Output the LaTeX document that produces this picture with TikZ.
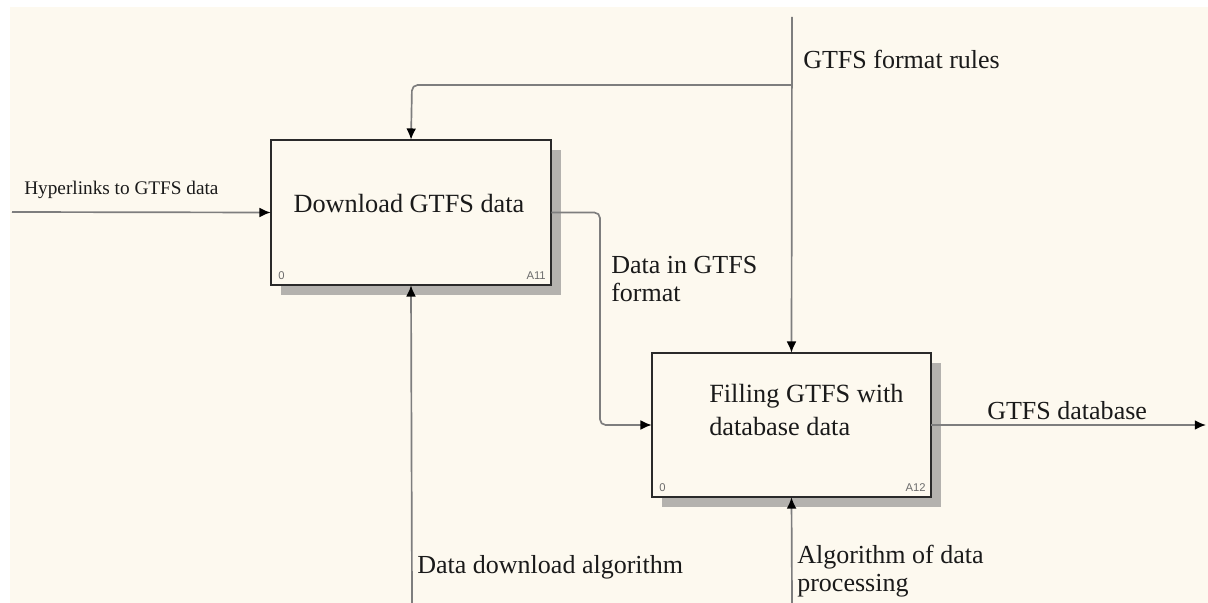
\documentclass[tikz,border=0pt]{standalone}
\usepackage{fontspec}
\setmainfont{Liberation Serif}
\newfontfamily\smallsans{Liberation Sans}
\usetikzlibrary{arrows.meta}
\definecolor{bgcream}{HTML}{FDF9EF}
\definecolor{linegray}{HTML}{7E7E7E}
\definecolor{boxline}{HTML}{2A2A2A}
\definecolor{shadowgray}{HTML}{B4B2AE}
\definecolor{textdark}{HTML}{1A1A1A}
\begin{document}
\begin{tikzpicture}[x=0.025cm,y=-0.025cm,
  actbox/.style={draw=boxline,line width=1.7pt,fill=bgcream,inner sep=0pt},
  conn/.style={draw=linegray,line width=1.2pt,rounded corners=4pt,-{Latex[length=8pt,width=7pt,color=black]}},
  lbl/.style={font=\fontsize{18.5}{20}\selectfont,text=textdark,inner sep=0pt,align=left},
  boxtxt/.style={font=\fontsize{18.7}{23}\selectfont,text=textdark,inner sep=0pt,align=left},
  small/.style={font=\smallsans\fontsize{8}{9}\selectfont,text=gray!85!black,inner sep=0pt}]
\useasboundingbox (0,0) rectangle (1208,603);
\fill[white] (0,0) rectangle (1208,603);
\fill[bgcream] (10,7) rectangle (1208,603);
% shadows
\fill[shadowgray] (281,150) rectangle (561,295);
\fill[shadowgray] (662,363) rectangle (941,507);
% boxes
\draw[actbox] (271,140) rectangle (551,285);
\draw[actbox] (652,353) rectangle (931,497);
\node[minimum width=280*0.025cm,minimum height=145*0.025cm,inner sep=0pt] (b1) at (411,212.5) {};
\node[minimum width=279*0.025cm,minimum height=144*0.025cm,inner sep=0pt] (b2) at (791.5,425) {};
% box texts
\node[boxtxt] (t1) at (409,204) {Download GTFS data};
\node[boxtxt,anchor=west] (t2) at (709,410) {Filling GTFS with\\database data};
\node[small,anchor=west] (z1) at (278,276) {0};
\node[small,anchor=east] (n1) at (546,276) {A11};
\node[small,anchor=west] (z2) at (659,488) {0};
\node[small,anchor=east] (n2) at (926,488) {A12};
% connector end points
\coordinate (ctop) at (792,17);
\coordinate (cbr) at (792,85);
\coordinate (inL) at (12,212);
\coordinate (outR) at (1206,425);
\coordinate (m1) at (412,603);
\coordinate (m2) at (792,603);
% connectors
\draw[conn] (ctop) -- (b2.north);
\draw[conn] (cbr) -- (412,85) -- (b1.north);
\draw[conn] (inL) -- (b1.west);
\draw[conn] (b1.east) -- (600,212.5) -- (600,425) -- (b2.west);
\draw[conn] (b2.east) -- (outR);
\draw[conn] (m1) -- (b1.south);
\draw[conn] (m2) -- (b2.south);
% labels
\node[lbl,anchor=west,font=\fontsize{13.7}{15}\selectfont] (l1) at (24,190) {Hyperlinks to GTFS data};
\node[lbl,anchor=west] (l2) at (803,59) {GTFS format rules};
\node[lbl,anchor=west] (l3) at (611,279) {Data in GTFS\\format};
\node[lbl,anchor=west] (l4) at (987,411) {GTFS database};
\node[lbl,anchor=west] (l5) at (417,567) {Data download algorithm};
\node[lbl,anchor=west] (l6) at (797,571) {Algorithm of data\\processing};
\end{tikzpicture}
\end{document}
